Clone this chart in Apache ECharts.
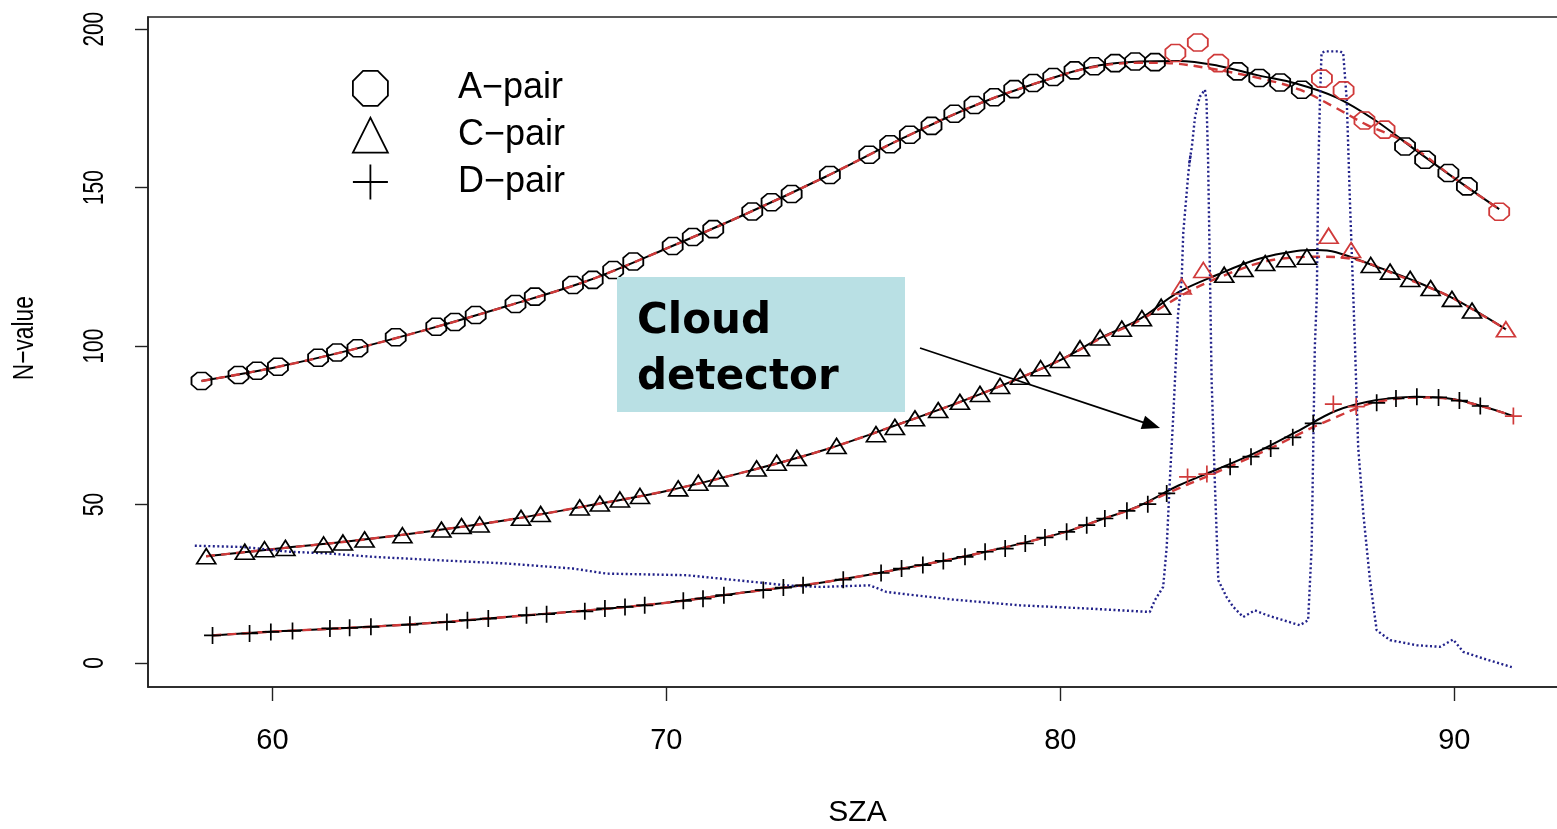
<!DOCTYPE html>
<html>
<head>
<meta charset="utf-8">
<script src="https://cdn.jsdelivr.net/npm/echarts@6/dist/echarts.min.js"></script>
<style>html,body{margin:0;padding:0;background:#fff;}#c{width:1557px;height:829px;}</style>
</head>
<body>
<div id="c"></div>
<script>
// ---------- data ----------
const aX = [58.20,59.14,59.61,60.14,61.16,61.64,62.16,63.13,64.16,64.63,65.16,66.17,66.66,67.63,68.13,68.65,69.16,70.16,70.67,71.19,72.18,72.67,73.18,74.15,75.15,75.68,76.18,76.73,77.31,77.82,78.32,78.83,79.31,79.82,80.36,80.86,81.39,81.90,82.40,82.92,83.49,84.01,84.50,85.05,85.58,86.13,86.64,87.19,87.72,88.23,88.75,89.26,89.85,90.32,91.14];
const aY = [89.0,90.9,92.2,93.5,96.3,98.0,99.3,102.8,106.1,107.6,109.8,113.3,115.6,119.3,120.9,124.0,126.7,131.6,134.4,136.9,142.5,145.4,148.0,154.0,160.4,163.7,166.7,169.5,173.3,176.1,178.5,181.1,183.0,184.9,187.0,188.3,189.3,189.8,189.6,192.5,195.8,189.3,186.7,184.6,183.2,180.9,184.4,180.7,171.2,168.3,163.0,158.8,154.6,150.4,142.4];
const aCloud = [0,0,0,0,0,0,0,0,0,0,0,0,0,0,0,0,0,0,0,0,0,0,0,0,0,0,0,0,0,0,0,0,0,0,0,0,0,0,0,1,1,1,0,0,0,0,1,1,1,1,0,0,0,0,1];

const cX = [58.32,59.30,59.80,60.33,61.30,61.79,62.34,63.30,64.29,64.80,65.26,66.31,66.81,67.80,68.31,68.82,69.33,70.30,70.81,71.32,72.29,72.80,73.31,74.32,75.32,75.80,76.31,76.90,77.45,77.96,78.47,78.98,79.50,79.99,80.50,81.01,81.56,82.07,82.56,83.08,83.63,84.16,84.65,85.20,85.73,86.26,86.81,87.38,87.88,88.37,88.88,89.40,89.94,90.45,91.31];
const cY = [33.7,35.1,35.9,36.3,37.4,38.0,39.0,40.3,42.1,43.2,43.7,45.8,47.0,49.1,50.3,51.6,52.7,55.1,56.9,58.2,61.4,63.2,64.7,68.5,72.2,74.5,77.2,79.8,82.4,84.9,87.4,90.3,93.0,95.6,99.3,102.7,105.5,108.8,112.4,118.8,124.0,122.5,124.3,126.2,127.4,128.2,134.8,130.3,125.6,123.5,121.2,118.3,114.9,111.2,105.3];
const cCloud = [0,0,0,0,0,0,0,0,0,0,0,0,0,0,0,0,0,0,0,0,0,0,0,0,0,0,0,0,0,0,0,0,0,0,0,0,0,0,0,1,1,0,0,0,0,0,1,1,0,0,0,0,0,0,1];

const dX = [58.48,59.42,59.96,60.51,61.46,61.96,62.50,63.49,64.43,64.95,65.48,66.45,66.96,67.93,68.44,68.95,69.45,70.43,70.93,71.46,72.46,72.97,73.47,74.49,75.45,75.97,76.51,77.03,77.58,78.09,78.60,79.11,79.61,80.16,80.67,81.13,81.69,82.22,82.70,83.23,83.72,84.31,84.84,85.34,85.90,86.42,86.93,87.51,88.03,88.52,89.05,89.60,90.13,90.66,91.50];
const dY = [8.7,9.3,9.8,10.1,10.9,11.1,11.4,12.1,12.9,13.5,14.0,15.1,15.4,16.3,17.2,17.7,18.2,19.6,20.3,21.4,23.0,23.8,24.5,26.3,28.4,29.8,30.9,32.2,33.5,35.1,36.1,37.7,39.6,41.4,43.5,45.6,48.0,50.1,53.5,58.7,59.6,61.9,65.1,67.7,71.2,75.6,81.7,80.9,82.1,83.5,84.0,83.8,82.8,81.1,77.9];
const dCloud = [0,0,0,0,0,0,0,0,0,0,0,0,0,0,0,0,0,0,0,0,0,0,0,0,0,0,0,0,0,0,0,0,0,0,0,0,0,0,0,1,1,0,0,0,0,0,1,1,0,0,0,0,0,0,1];

// fitted curves (solid black and dashed red)
const aFitX  = [58.2,60,62,64,66,68,70,72,74,76,78,80,81,82,83,84,85,86,87,88,89,90,91.14];
const aFitY  = [89.0,93.1,98.8,105.5,112.8,120.6,130.8,141.6,153.2,165.6,176.8,185.4,188.6,189.8,190.0,188.5,185.5,182.8,178.5,171.2,162.0,153.0,143.2];
const aFit2X = [58.2,60,62,64,66,68,70,72,74,76,78,80,81,82,82.7,83.8,85.24,86.08,86.93,87.78,88.5,89.05,90,91.14];
const aFit2Y = [89.0,93.1,98.8,105.5,112.8,120.6,130.8,141.6,153.2,165.6,176.8,185.4,188.4,189.4,189.3,187.6,184.0,180.9,175.6,169.8,166.0,162.0,153.0,143.2];

const cFitX  = [58.32,60,62,64,66,68,70,72,74,76,78,80,81,82,83,84,85,86,86.5,87,88,89,90,91.31];
const cFitY  = [33.7,35.9,38.5,41.6,45.2,49.6,54.3,60.3,67.2,75.8,85.0,95.6,102.5,108.4,117.0,122.6,127.4,130.0,130.3,129.6,125.2,120.5,114.9,105.3];
const cFit2X = [58.32,60,62,64,66,68,70,72,74,76,78,80,81,82,83.12,84,85.24,86.5,87.52,88.63,89.5,90,91.31];
const cFit2Y = [33.7,35.9,38.5,41.6,45.2,49.6,54.3,60.3,67.2,75.8,85.0,95.6,102.3,108.0,116.3,121.5,126.8,128.2,127.2,122.0,117.8,114.9,105.3];

const dFitX  = [58.48,60,62,64,66,68,70,72,74,76,78,80,81,82,83,84,85,86,87,88,89,90,91.5];
const dFitY  = [8.7,9.9,11.1,12.6,14.6,16.6,19.0,22.3,25.5,29.8,34.8,40.9,45.1,49.6,56.0,61.2,66.6,73.0,79.6,82.9,84.0,83.2,77.9];
const dFit2X = [58.48,60,62,64,66,68,70,72,74,76,78,80,81,82,82.7,83.8,85.24,86.43,86.93,87.53,88.03,89.05,90,91.5];
const dFit2Y = [8.7,9.9,11.1,12.6,14.6,16.6,19.0,22.3,25.5,29.8,34.8,40.9,45.1,49.4,53.5,59.3,67.2,74.5,77.2,80.4,82.4,83.8,83.1,77.9];

// cloud detector trace
const cloudX = [58.03,59.25,60.44,61.37,62.55,64.25,65.94,67.63,68.48,70.51,72.20,73.05,73.90,75.17,75.59,77.28,78.97,80.67,82.27,82.40,82.61,82.70,82.78,82.87,82.99,83.08,83.12,83.25,83.31,83.27,83.34,83.42,83.54,83.67,83.71,83.75,83.80,83.84,83.92,84.01,84.22,84.39,84.64,84.94,85.24,86.08,86.29,86.38,86.42,86.46,86.51,86.55,86.59,86.63,86.72,87.10,87.18,87.27,87.35,87.44,87.48,87.56,87.69,87.86,88.03,88.37,89.05,89.64,89.97,90.23,90.74,91.46];
const cloudY = [37.0,36.6,35.1,34.6,33.5,32.4,31.4,29.8,28.2,27.7,25.6,24.5,24.0,24.5,22.4,20.0,18.2,17.2,16.1,19.8,24.0,36.6,57.7,78.8,110.4,120.9,135.7,154.7,160.5,157.5,163.0,172.4,178.7,180.9,177.7,158.8,120.9,89.3,57.7,26.1,20.8,17.7,14.5,16.6,15.1,11.9,13.5,36.6,68.2,99.8,115.6,156.7,177.7,192.5,193.0,193.0,192.5,177.7,146.1,114.6,99.8,68.2,47.2,26.1,10.3,7.2,5.6,5.1,7.4,3.5,1.4,-1.3];

const xTicks = [60,70,80,90];
const yTicks = [0,50,100,150,200];
const names = ['A\u2212pair','C\u2212pair','D\u2212pair'];
const yTitle = 'N\u2212value';
const xTitle = 'SZA';

// ---------- helpers ----------
const zip = (xs, ys) => xs.map((x, i) => [x, ys[i]]);
const pick = (xs, ys, flags, want) => xs.map((x, i) => [x, ys[i], flags[i]]).filter(p => p[2] === want).map(p => [p[0], p[1]]);

const OCT = 'path://M29,0 L71,0 L100,29 L100,71 L71,100 L29,100 L0,71 L0,29 Z';
const TRI = 'path://M50,0 L100,100 L0,100 Z';
const PLUS = 'path://M50,0 L50,100 M0,50 L100,50';
const RED = '#d03a3a';
const FONT = 'Liberation Sans, Arial, sans-serif';
const AXC = '#222';

function ptsSeries(name, data, symbol, size, color) {
  return {
    name: name, type: 'scatter', data: data, symbol: symbol, symbolSize: size,
    itemStyle: { color: 'rgba(0,0,0,0)', borderColor: color, borderWidth: 1.7, opacity: 1 },
    z: 5, silent: true, animation: false
  };
}
function fitSeries(data, color, type, width, z) {
  return {
    type: 'line', data: data, showSymbol: false, symbol: 'none', smooth: 0.35,
    lineStyle: { color: color, type: type, width: width }, z: z, silent: true, animation: false
  };
}

const series = [
  fitSeries(zip(aFitX, aFitY), '#000', 'solid', 2, 2),
  fitSeries(zip(cFitX, cFitY), '#000', 'solid', 2, 2),
  fitSeries(zip(dFitX, dFitY), '#000', 'solid', 2, 2),
  fitSeries(zip(aFit2X, aFit2Y), RED, [9, 6], 2.4, 3),
  fitSeries(zip(cFit2X, cFit2Y), RED, [9, 6], 2.4, 3),
  fitSeries(zip(dFit2X, dFit2Y), RED, [9, 6], 2.4, 3),
  {
    type: 'line', data: zip(cloudX, cloudY), showSymbol: false, symbol: 'none',
    lineStyle: { color: '#22228a', type: [2, 2.5], width: 2.4 }, z: 4, silent: true, animation: false
  },
  ptsSeries(names[0], pick(aX, aY, aCloud, 0), OCT, [20, 17], '#000'),
  ptsSeries(names[1], pick(cX, cY, cCloud, 0), TRI, [19, 15], '#000'),
  ptsSeries(names[2], pick(dX, dY, dCloud, 0), PLUS, [17, 17], '#000'),
  ptsSeries('A cloud', pick(aX, aY, aCloud, 1), OCT, [20, 17], RED),
  ptsSeries('C cloud', pick(cX, cY, cCloud, 1), TRI, [19, 15], RED),
  ptsSeries('D cloud', pick(dX, dY, dCloud, 1), PLUS, [17, 17], RED)
];

const baseGraphic = [
  { type: 'rect', shape: { x: 617, y: 277, width: 288, height: 135 }, style: { fill: '#b9e0e4' }, z: 20 },
  { type: 'text', x: 637, y: 322, style: { text: 'Cloud', font: 'bold 42px "DejaVu Sans", sans-serif', fill: '#000', verticalAlign: 'middle' }, z: 21 },
  { type: 'text', x: 637, y: 378, style: { text: 'detector', font: 'bold 42px "DejaVu Sans", sans-serif', fill: '#000', verticalAlign: 'middle' }, z: 21 },
  { type: 'line', shape: { x1: 920, y1: 348, x2: 1144, y2: 422.7 }, style: { stroke: '#000', lineWidth: 1.8 }, z: 21 },
  { type: 'polygon', shape: { points: [[1160, 428], [1145.1, 415.7], [1140.7, 428.9]] }, style: { fill: '#000' }, z: 21 }
];

const chart = echarts.init(document.getElementById('c'), null, { renderer: 'canvas' });
chart.setOption({
  backgroundColor: '#fff',
  animation: false,
  grid: {
    left: 148, top: 17, bottom: 142, right: -10,
    show: true, borderColor: AXC, borderWidth: 1.6, backgroundColor: 'transparent',
    containLabel: false, outerBoundsMode: 'none'
  },
  xAxis: {
    type: 'value', min: 56.842, max: 92.861, position: 'bottom',
    name: xTitle, nameLocation: 'middle', nameGap: 111,
    nameTextStyle: { fontFamily: FONT, fontSize: 30, color: '#000' },
    axisLine: { show: true, onZero: false, lineStyle: { color: AXC, width: 1.6 } },
    splitLine: { show: false },
    axisTick: { show: true, inside: false, length: 14, customValues: xTicks, lineStyle: { color: AXC, width: 1.4 } },
    axisLabel: { customValues: xTicks, fontFamily: FONT, fontSize: 29, color: '#000', margin: 39 }
  },
  yAxis: {
    type: 'value', min: -7.58, max: 203.85, position: 'left',
    axisLine: { show: true, onZero: false, lineStyle: { color: AXC, width: 1.6 } },
    splitLine: { show: false },
    axisTick: { show: true, inside: false, length: 13, customValues: yTicks, lineStyle: { color: AXC, width: 1.4 } },
    axisLabel: { show: false }
  },
  legend: {
    orient: 'vertical', left: 347, top: 65, itemWidth: 37, itemHeight: 35, itemGap: 10,
    selectedMode: false,
    data: [
      { name: names[0], icon: OCT },
      { name: names[1], icon: TRI },
      { name: names[2], icon: PLUS }
    ],
    itemStyle: { color: 'rgba(0,0,0,0)', borderColor: '#000', borderWidth: 1.8 },
    textStyle: { fontFamily: FONT, fontSize: 36, color: '#000', padding: [0, 0, 0, 64] }
  },
  graphic: baseGraphic,
  series: series
});

// rotated y tick labels and y title, placed through the axis scale (condensed like the source)
const yLabelGraphic = yTicks.map(v => ({
  type: 'text', x: 95, y: chart.convertToPixel({ yAxisIndex: 0 }, v),
  rotation: Math.PI / 2, scaleX: 0.72,
  style: { text: String(v), font: '29px "Liberation Sans", Arial, sans-serif', fill: '#000', align: 'center', verticalAlign: 'middle' },
  z: 10
}));
const yMid = chart.convertToPixel({ yAxisIndex: 0 }, 102.5);
yLabelGraphic.push({
  type: 'text', x: 25, y: yMid, rotation: Math.PI / 2, scaleX: 0.76,
  style: { text: yTitle, font: '30px "Liberation Sans", Arial, sans-serif', fill: '#000', align: 'center', verticalAlign: 'middle' },
  z: 10
});
chart.setOption({ graphic: baseGraphic.concat(yLabelGraphic) });
</script>
</body>
</html>
